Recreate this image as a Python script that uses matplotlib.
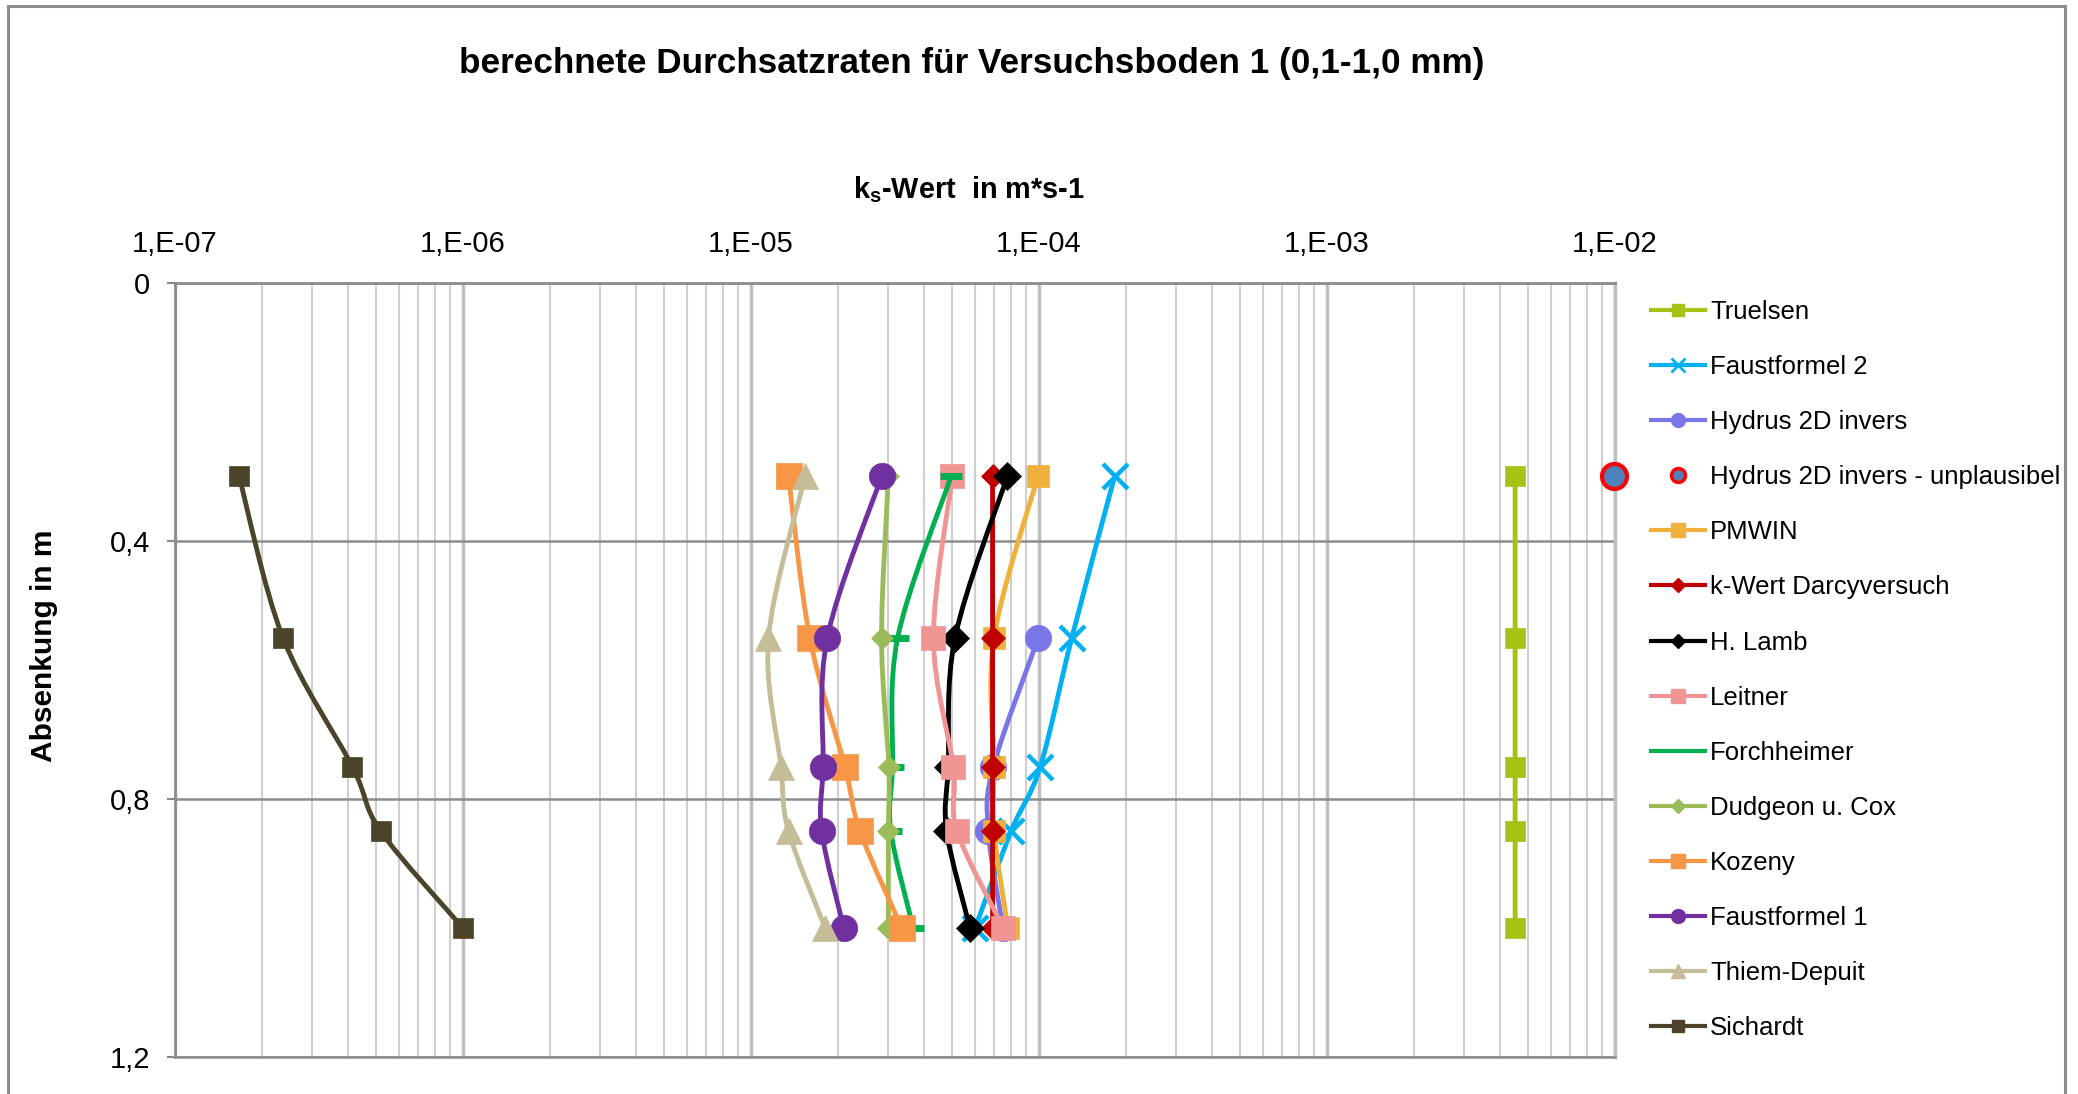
import numpy as np
import matplotlib
matplotlib.use("Agg")
import matplotlib.pyplot as plt
from matplotlib.path import Path
from matplotlib.patches import PathPatch, Rectangle
from matplotlib.lines import Line2D

plt.rcParams['font.family'] = ['Liberation Sans', 'DejaVu Sans']
plt.rcParams['mathtext.default'] = 'regular'

# Absenkung in m (Tiefen der Messpunkte)
tiefe = [0.3, 0.55, 0.75, 0.85, 1.0]

# ks-Werte in m/s je Verfahren
truelsen = [4.5e-3, 4.5e-3, 4.5e-3, 4.5e-3, 4.5e-3]
faust2 = [1.83e-4, 1.30e-4, 1.01e-4, 8.0e-5, 6.0e-5]
hydrus_tiefe = [0.55, 0.75, 0.85, 1.0]
hydrus = [9.95e-5, 6.94e-5, 6.67e-5, 7.5e-5]
hydrus_unpl_tiefe = [0.3]
hydrus_unpl = [9.9e-3]
pmwin = [9.9e-5, 6.98e-5, 6.98e-5, 6.98e-5, 7.8e-5]
darcy = [6.9e-5, 6.9e-5, 6.9e-5, 6.9e-5, 6.9e-5]
lamb = [7.76e-5, 5.11e-5, 4.84e-5, 4.78e-5, 5.76e-5]
leitner = [5.0e-5, 4.3e-5, 5.04e-5, 5.2e-5, 7.52e-5]
forchheimer = [4.95e-5, 3.23e-5, 3.10e-5, 3.06e-5, 3.66e-5]
dudgeon = [3.0e-5, 2.84e-5, 3.01e-5, 3.0e-5, 3.0e-5]
kozeny = [1.35e-5, 1.60e-5, 2.12e-5, 2.39e-5, 3.34e-5]
faust1 = [2.84e-5, 1.84e-5, 1.78e-5, 1.76e-5, 2.10e-5]
thiem = [1.54e-5, 1.15e-5, 1.27e-5, 1.35e-5, 1.81e-5]
sichardt = [1.67e-7, 2.37e-7, 4.13e-7, 5.18e-7, 1.0e-6]

xticks = [1e-7, 1e-6, 1e-5, 1e-4, 1e-3, 1e-2]
xticklabels = ['1,E-07', '1,E-06', '1,E-05', '1,E-04', '1,E-03', '1,E-02']
yticks = [0, 0.4, 0.8, 1.2]
yticklabels = ['0', '0,4', '0,8', '1,2']

# name, x, y, color, marker, size, legend marker size
serien = [
    ('Truelsen', truelsen, tiefe, '#A7C217', 's', 15, 9),
    ('Faustformel 2', faust2, tiefe, '#00B0F0', 'x', 18, 10),
    ('Hydrus 2D invers', hydrus, hydrus_tiefe, '#7B76E8', 'o', 19, 10),
    ('Hydrus 2D invers - unplausibel', hydrus_unpl, hydrus_unpl_tiefe, '#4F81BD', 'o', 18, 10),
    ('PMWIN', pmwin, tiefe, '#F0B03C', 's', 16, 10),
    ('k-Wert Darcyversuch', darcy, tiefe, '#C00000', 'D', 12, 7),
    ('H. Lamb', lamb, tiefe, '#000000', 'D', 14, 7),
    ('Leitner', leitner, tiefe, '#F09494', 's', 17, 10),
    ('Forchheimer', forchheimer, tiefe, '#00B050', '_', 16, 0),
    ('Dudgeon u. Cox', dudgeon, tiefe, '#9BBB59', 'D', 11, 7),
    ('Kozeny', kozeny, tiefe, '#F79646', 's', 19, 10),
    ('Faustformel 1', faust1, tiefe, '#7030A0', 'o', 19, 10),
    ('Thiem-Depuit', thiem, tiefe, '#C4BD97', '^', 19, 10),
    ('Sichardt', sichardt, tiefe, '#4A452A', 's', 14, 9),
]


def glatte_linie(xs, ys):
    # Excel-artige Glaettung (Catmull-Rom als Bezier) im log-x Raum
    lx = np.log10(xs)
    y = np.asarray(ys, dtype=float)
    n = len(lx)
    verts = [(lx[0], y[0])]
    codes = [Path.MOVETO]
    for i in range(n - 1):
        a = max(i - 1, 0)
        b = min(i + 2, n - 1)
        c1 = (lx[i] + (lx[i + 1] - lx[a]) / 6, y[i] + (y[i + 1] - y[a]) / 6)
        c2 = (lx[i + 1] - (lx[b] - lx[i]) / 6, y[i + 1] - (y[b] - y[i]) / 6)
        verts += [c1, c2, (lx[i + 1], y[i + 1])]
        codes += [Path.CURVE4] * 3
    verts = np.array(verts)
    verts[:, 0] = 10 ** verts[:, 0]
    return Path(verts, codes)


fig = plt.figure(figsize=(20.78, 10.94), dpi=100)
ax = fig.add_axes([175 / 2078, 1 - 1057 / 1094, 1440 / 2078, 774 / 1094])

handles = []
for i, (name, xs, ys, c, m, ms, lms) in enumerate(serien):
    z = 3 + i
    unplausibel = name.endswith('unplausibel')
    if not unplausibel and len(xs) > 1:
        ax.add_patch(PathPatch(glatte_linie(xs, ys), fill=False, edgecolor=c,
                               lw=3.5, zorder=z, capstyle='round'))
    if unplausibel:
        ax.plot(xs, ys, linestyle='none', marker='o', ms=ms, mfc=c, mec='#FF0000',
                mew=3, zorder=z + 20, clip_on=False)
        handles.append(Line2D([], [], linestyle='none', marker='o', ms=lms,
                              mfc=c, mec='#FF0000', mew=2.5, label=name))
    elif m == '_':
        ax.plot(xs, ys, linestyle='none', marker='_', ms=ms, mew=5, color=c, zorder=z)
        handles.append(Line2D([], [], color=c, lw=3, label=name))
    elif m == 'x':
        ax.plot(xs, ys, linestyle='none', marker='x', ms=ms, mew=3.2, color=c, zorder=z)
        handles.append(Line2D([], [], color=c, lw=3, marker='x', ms=lms, mew=2, label=name))
    else:
        ax.plot(xs, ys, linestyle='none', marker=m, ms=ms, mfc=c, mec=c, mew=0.5, zorder=z)
        handles.append(Line2D([], [], color=c, lw=3, marker=m, ms=lms, mfc=c, mec=c, label=name))

ax.set_xscale('log')
ax.set_xlim(1e-7, 1e-2)
ax.set_ylim(1.2, 0)

ax.xaxis.tick_top()
ax.set_xticks(xticks)
ax.set_xticklabels(xticklabels, fontsize=21)
ax.tick_params(axis='x', which='major', length=0, pad=18)
ax.tick_params(axis='x', which='minor', length=0, labeltop=False, labelbottom=False)
ax.set_yticks(yticks)
ax.set_yticklabels(yticklabels, fontsize=21)
ax.tick_params(axis='y', length=6, width=1.5, color='#888888', pad=12)

ax.grid(True, which='major', axis='x', color='#BFBFBF', lw=2.5, zorder=0)
ax.grid(True, which='minor', axis='x', color='#CFCFCF', lw=1.5, zorder=0)
ax.grid(True, which='major', axis='y', color='#8C8C8C', lw=1.8, zorder=0)
ax.set_axisbelow(True)

for s in ['top', 'left']:
    ax.spines[s].set_color('#8C8C8C')
    ax.spines[s].set_linewidth(2)
ax.spines['right'].set_color('#BFBFBF')
ax.spines['right'].set_linewidth(2.5)
ax.spines['bottom'].set_color('#8C8C8C')
ax.spines['bottom'].set_linewidth(1.8)

# Beschriftungen
fig.text(972 / 2078, 1 - 73 / 1094, 'berechnete Durchsatzraten für Versuchsboden 1 (0,1-1,0 mm)',
         ha='center', va='baseline', fontsize=25.3, fontweight='bold')
fig.text(969 / 2078, 1 - 198 / 1094, r'k$_\mathregular{s}$-Wert  in m*s-1',
         ha='center', va='baseline', fontsize=20.8, fontweight='bold')
fig.text(44 / 2078, 1 - 646 / 1094, 'Absenkung in m', rotation=90,
         ha='center', va='center', fontsize=21.5, fontweight='bold')

fig.legend(handles=handles, loc='upper left', bbox_to_anchor=(1651 / 2078, 1 - 300 / 1094),
           frameon=False, fontsize=18.5, handlelength=2.1, handletextpad=0.2,
           labelspacing=1.21, borderaxespad=0, borderpad=0)

# Rahmen des Diagrammbereichs
fig.patches.append(Rectangle((8 / 2078, -0.01), 2057 / 2078, 1.01 - 6 / 1094,
                             transform=fig.transFigure, fill=False,
                             edgecolor='#8C8C8C', lw=2.2))

fig.savefig('out.png', dpi=100)
